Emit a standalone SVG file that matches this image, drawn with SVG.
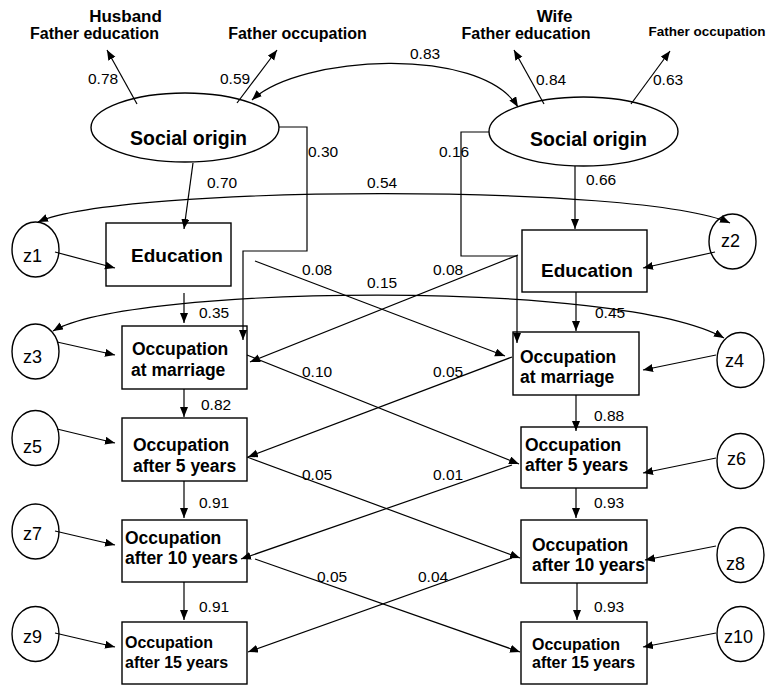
<svg xmlns="http://www.w3.org/2000/svg" width="780" height="687" viewBox="0 0 780 687">
<defs>
<marker id="ah" markerUnits="userSpaceOnUse" markerWidth="11" markerHeight="9" refX="10" refY="4" orient="auto-start-reverse" viewBox="0 0 11 9">
<path d="M0,0 L10,4 L0,8 z" fill="#000"/>
</marker>
<style>
text{font-family:"Liberation Sans",Arial,sans-serif;fill:#000}
.b{font-weight:bold}
.t{font-weight:bold;font-size:17.5px}
.t16{font-weight:bold;font-size:16px}
.n{font-size:15.5px}
.z{font-size:18px}
.node{fill:none;stroke:#000;stroke-width:1.4}
.a{fill:none;stroke:#000;stroke-width:1.2;marker-end:url(#ah)}
.d{fill:none;stroke:#000;stroke-width:1.2;marker-start:url(#ah);marker-end:url(#ah)}
</style>
</defs>
<rect width="780" height="687" fill="#fff"/>

<g id="indicator-labels">
<text class="b" x="125.5" y="22" font-size="17" text-anchor="middle">Husband</text>
<text class="b" x="94.5" y="39" font-size="16" text-anchor="middle">Father education</text>
<text class="b" x="297.5" y="39" font-size="16" text-anchor="middle">Father occupation</text>
<text class="b" x="554.5" y="22" font-size="17" text-anchor="middle">Wife</text>
<text class="b" x="526" y="39" font-size="16" text-anchor="middle">Father education</text>
<text class="b" x="707" y="36" font-size="13.5" text-anchor="middle">Father occupation</text>
</g>

<g id="social-origin-husband">
<ellipse class="node" cx="185" cy="127.5" rx="94" ry="34.5"/>
<text class="b" x="188.5" y="145" font-size="19.5" text-anchor="middle">Social origin</text>
</g>
<g id="social-origin-wife">
<ellipse class="node" cx="583.5" cy="131.5" rx="94.5" ry="34.5"/>
<text class="b" x="588.5" y="145.5" font-size="19.5" text-anchor="middle">Social origin</text>
</g>

<g id="education-husband">
<rect class="node" x="106" y="223" width="125" height="63"/>
<text class="b" x="177" y="262" font-size="19" text-anchor="middle">Education</text>
</g>
<g id="education-wife">
<rect class="node" x="522" y="230" width="125" height="62"/>
<text class="b" x="587" y="277" font-size="19" text-anchor="middle">Education</text>
</g>

<g id="occ-marriage-husband">
<rect class="node" x="122" y="326" width="125" height="63"/>
<text class="t" x="132" y="355">Occupation</text>
<text class="t" x="131" y="376">at marriage</text>
</g>
<g id="occ-5-husband">
<rect class="node" x="122" y="418" width="125" height="63"/>
<text class="t" x="133" y="451">Occupation</text>
<text class="t" x="133" y="472">after 5 years</text>
</g>
<g id="occ-10-husband">
<rect class="node" x="122" y="520" width="125" height="62"/>
<text class="t" x="125" y="544">Occupation</text>
<text class="t" x="125" y="564">after 10 years</text>
</g>
<g id="occ-15-husband">
<rect class="node" x="122" y="622" width="125" height="62"/>
<text class="t16" x="125" y="648">Occupation</text>
<text class="t16" x="125" y="668">after 15 years</text>
</g>

<g id="occ-marriage-wife">
<rect class="node" x="513" y="332" width="126" height="63"/>
<text class="t" x="520" y="363">Occupation</text>
<text class="t" x="520" y="383">at marriage</text>
</g>
<g id="occ-5-wife">
<rect class="node" x="521" y="427" width="126" height="61"/>
<text class="t" x="525" y="451">Occupation</text>
<text class="t" x="525" y="471">after 5 years</text>
</g>
<g id="occ-10-wife">
<rect class="node" x="521" y="520" width="126" height="63"/>
<text class="t" x="532" y="551">Occupation</text>
<text class="t" x="532" y="571">after 10 years</text>
</g>
<g id="occ-15-wife">
<rect class="node" x="521" y="622" width="126" height="62"/>
<text class="t16" x="532" y="650">Occupation</text>
<text class="t16" x="532" y="668">after 15 years</text>
</g>

<g id="z1"><ellipse class="node" cx="35.5" cy="249.5" rx="23.5" ry="27.5"/><text class="z" x="23" y="262">z1</text></g>
<g id="z3"><ellipse class="node" cx="35.5" cy="351.5" rx="23.5" ry="27.5"/><text class="z" x="23" y="363">z3</text></g>
<g id="z5"><ellipse class="node" cx="35.5" cy="438" rx="23.5" ry="27.5"/><text class="z" x="23" y="453">z5</text></g>
<g id="z7"><ellipse class="node" cx="35.5" cy="531.5" rx="23.5" ry="27.5"/><text class="z" x="23" y="540">z7</text></g>
<g id="z9"><ellipse class="node" cx="35.5" cy="634" rx="23.5" ry="27.5"/><text class="z" x="23" y="643">z9</text></g>
<g id="z2"><ellipse class="node" cx="732.5" cy="241.5" rx="23.5" ry="27.5"/><text class="z" x="721" y="247">z2</text></g>
<g id="z4"><ellipse class="node" cx="740.5" cy="360" rx="23.5" ry="27.5"/><text class="z" x="725" y="367">z4</text></g>
<g id="z6"><ellipse class="node" cx="740.5" cy="461" rx="23.5" ry="27.5"/><text class="z" x="727" y="465">z6</text></g>
<g id="z8"><ellipse class="node" cx="740.5" cy="555" rx="23.5" ry="27.5"/><text class="z" x="726" y="570">z8</text></g>
<g id="z10"><ellipse class="node" cx="740.5" cy="634" rx="23.5" ry="27.5"/><text class="z" x="724" y="643">z10</text></g>

<g id="connectors">
<line class="a" x1="137" y1="104" x2="107" y2="50"/>
<line class="a" x1="237" y1="103" x2="277" y2="50"/>
<line class="a" x1="544" y1="104" x2="514" y2="50"/>
<line class="a" x1="631" y1="104" x2="670" y2="51"/>
<path class="d" d="M252,100 C300,55 480,45 518,107"/>
<path class="a" d="M279,127 H307 V251 H243 V340"/>
<path class="a" d="M489,132 H461 V256 H517 V343"/>
<line class="a" x1="193" y1="163" x2="184" y2="229"/>
<line class="a" x1="575" y1="166" x2="575" y2="229"/>
<path class="d" d="M38,222 C120,185 640,183 730,223"/>
<path class="d" d="M53,331 C130,285 620,279 724,338"/>
<line class="a" x1="184" y1="293" x2="184" y2="323"/>
<line class="a" x1="184" y1="389" x2="184" y2="417"/>
<line class="a" x1="184" y1="481" x2="184" y2="518"/>
<line class="a" x1="184" y1="582" x2="184" y2="620"/>
<line class="a" x1="576" y1="292" x2="576" y2="331"/>
<line class="a" x1="576" y1="395" x2="576" y2="431"/>
<line class="a" x1="576" y1="488" x2="576" y2="518"/>
<line class="a" x1="577" y1="583" x2="577" y2="620"/>
<line class="a" x1="255" y1="261" x2="505" y2="356"/>
<line class="a" x1="518" y1="255" x2="250" y2="362"/>
<line class="a" x1="247" y1="355" x2="519" y2="464"/>
<line class="a" x1="512" y1="357" x2="248" y2="457"/>
<line class="a" x1="247" y1="457" x2="520" y2="558"/>
<line class="a" x1="512" y1="465" x2="241" y2="559"/>
<line class="a" x1="255" y1="559" x2="520" y2="652"/>
<line class="a" x1="512" y1="558" x2="248" y2="652"/>
<line class="a" x1="55" y1="252" x2="115" y2="268"/>
<line class="a" x1="57" y1="342" x2="115" y2="355"/>
<line class="a" x1="57" y1="429" x2="115" y2="443"/>
<line class="a" x1="55" y1="531" x2="115" y2="545"/>
<line class="a" x1="55" y1="633" x2="115" y2="647"/>
<line class="a" x1="715" y1="252" x2="643" y2="268"/>
<line class="a" x1="716" y1="355" x2="643" y2="370"/>
<line class="a" x1="716" y1="458" x2="643" y2="473"/>
<line class="a" x1="716" y1="546" x2="645" y2="560"/>
<line class="a" x1="716" y1="633" x2="643" y2="647"/>
</g>

<g id="connector-labels">
<text class="n" x="88" y="84">0.78</text>
<text class="n" x="220" y="84">0.59</text>
<text class="n" x="410" y="59">0.83</text>
<text class="n" x="536" y="85">0.84</text>
<text class="n" x="653" y="85">0.63</text>
<text class="n" x="308" y="157">0.30</text>
<text class="n" x="439" y="157">0.16</text>
<text class="n" x="207" y="188">0.70</text>
<text class="n" x="367" y="188">0.54</text>
<text class="n" x="586" y="185">0.66</text>
<text class="n" x="302" y="275">0.08</text>
<text class="n" x="367" y="288">0.15</text>
<text class="n" x="433" y="275">0.08</text>
<text class="n" x="199" y="318">0.35</text>
<text class="n" x="595" y="318">0.45</text>
<text class="n" x="302" y="377">0.10</text>
<text class="n" x="433" y="377">0.05</text>
<text class="n" x="201" y="410">0.82</text>
<text class="n" x="594" y="421">0.88</text>
<text class="n" x="302" y="480">0.05</text>
<text class="n" x="433" y="480">0.01</text>
<text class="n" x="199" y="508">0.91</text>
<text class="n" x="594" y="508">0.93</text>
<text class="n" x="317" y="582">0.05</text>
<text class="n" x="418" y="582">0.04</text>
<text class="n" x="199" y="612">0.91</text>
<text class="n" x="594" y="612">0.93</text>
</g>
</svg>
